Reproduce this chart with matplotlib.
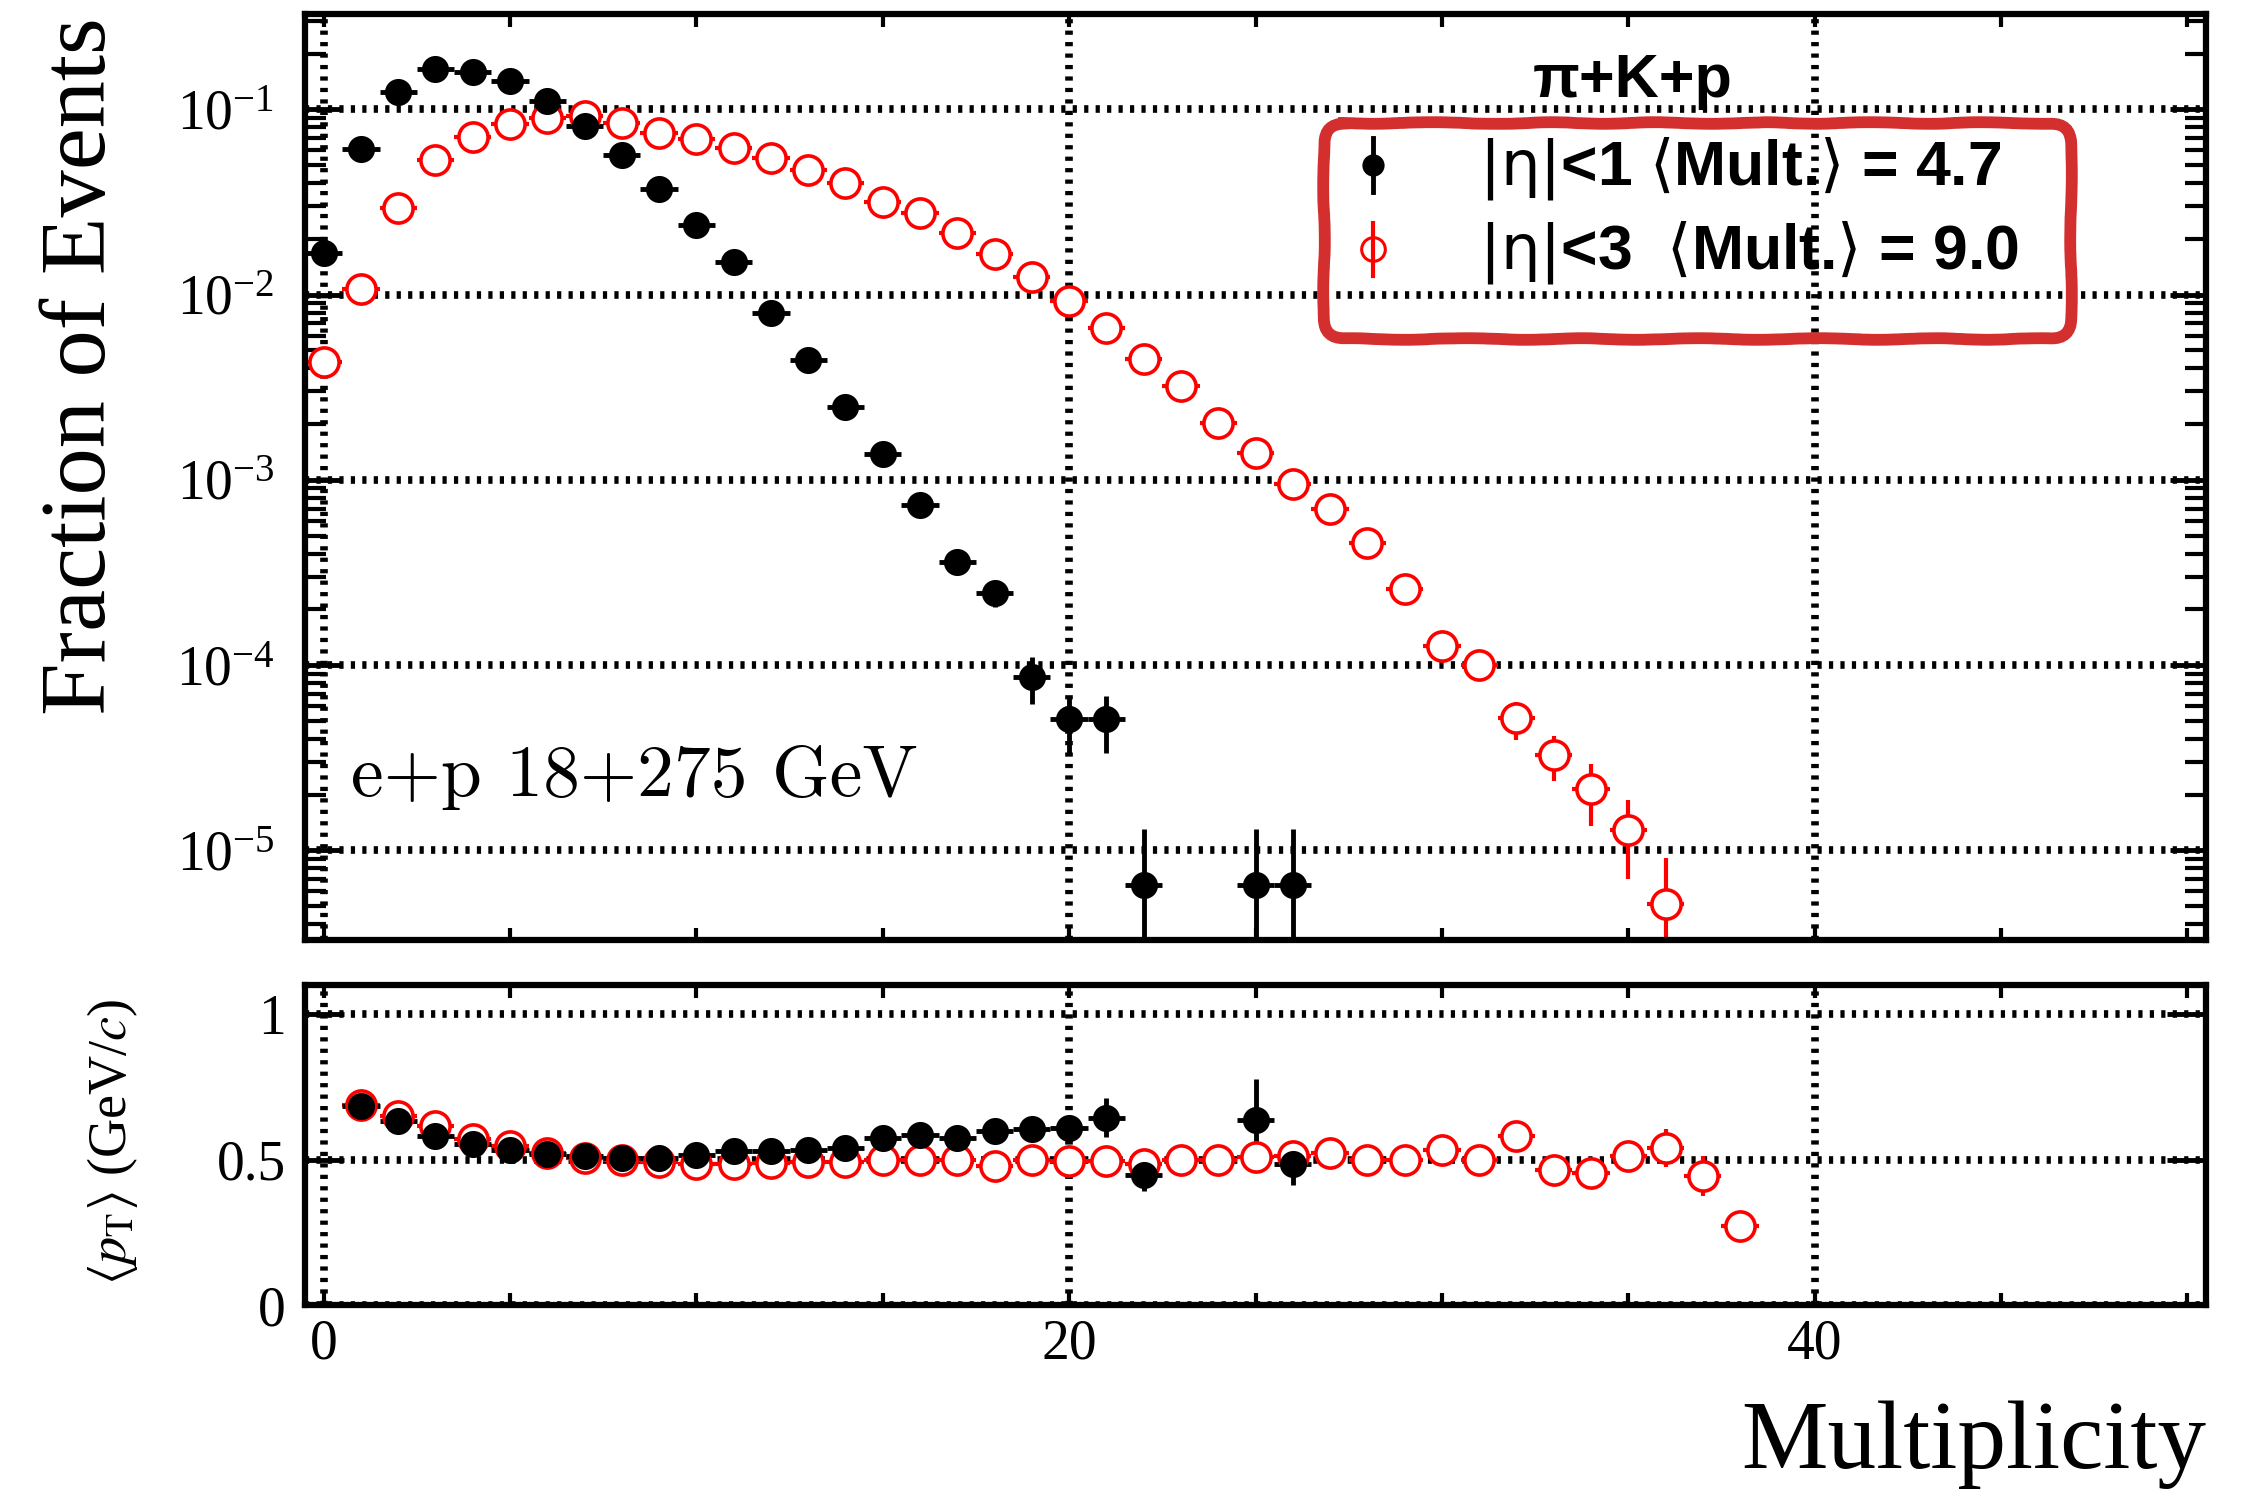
import matplotlib
matplotlib.use('Agg')
import matplotlib.pyplot as plt
import matplotlib.ticker as ticker
from matplotlib.patches import FancyBboxPatch

# ---- data ----
# fraction of events, |eta|<1
mult_eta1 = [0, 1, 2, 3, 4, 5, 6, 7, 8, 9, 10, 11, 12, 13, 14, 15, 16, 17, 18, 19, 20, 21, 22, 25, 26]
frac_eta1 = [0.0167, 0.0612, 0.1246, 0.166, 0.160, 0.142, 0.111, 0.0813, 0.0564, 0.0372,
             0.0236, 0.0149, 0.0080, 0.00446, 0.00247, 0.00138, 7.3e-4, 3.6e-4, 2.45e-4, 8.6e-5,
             5.1e-5, 5.1e-5, 6.5e-6, 6.5e-6, 6.5e-6]
frac_eta1_err = [3e-4, 6e-4, 9e-4, 1e-3, 1e-3, 9e-4, 8e-4, 7e-4, 6e-4, 5e-4,
                 4e-4, 3e-4, 2e-4, 1.7e-4, 1.3e-4, 9e-5, 7e-5, 5e-5, 4e-5, 2.4e-5,
                 1.75e-5, 1.75e-5, 6.5e-6, 6.5e-6, 6.5e-6]

# fraction of events, |eta|<3
mult_eta3 = [0, 1, 2, 3, 4, 5, 6, 7, 8, 9, 10, 11, 12, 13, 14, 15, 16, 17, 18, 19,
             20, 21, 22, 23, 24, 25, 26, 27, 28, 29, 30, 31, 32, 33, 34, 35, 36]
frac_eta3 = [0.0043, 0.0107, 0.0294, 0.0532, 0.0708, 0.0837, 0.0901, 0.092, 0.0847, 0.0748,
             0.0695, 0.062, 0.0545, 0.0472, 0.0402, 0.0315, 0.0274, 0.0215, 0.0166, 0.0124,
             0.0092, 0.0066, 0.0045, 0.0032, 0.00202, 0.00139, 9.55e-4, 7.0e-4, 4.56e-4, 2.58e-4,
             1.26e-4, 1.0e-4, 5.15e-5, 3.26e-5, 2.15e-5, 1.29e-5, 5.1e-6]
frac_eta3_err = [1.5e-4, 2.5e-4, 4e-4, 6e-4, 7e-4, 7e-4, 8e-4, 8e-4, 7e-4, 7e-4,
                 7e-4, 6e-4, 6e-4, 5e-4, 5e-4, 4e-4, 4e-4, 3e-4, 3e-4, 2.5e-4,
                 2e-4, 1.6e-4, 1.3e-4, 1e-4, 8e-5, 6e-5, 5e-5, 4e-5, 3.5e-5, 2.5e-5,
                 1.4e-5, 1.3e-5, 1.2e-5, 9e-6, 7.9e-6, 5.9e-6, 4.0e-6]

# mean pT, |eta|<1
pt_mult_eta1 = [1, 2, 3, 4, 5, 6, 7, 8, 9, 10, 11, 12, 13, 14, 15, 16, 17, 18, 19, 20, 21, 22, 25, 26]
pt_eta1 = [0.683, 0.632, 0.580, 0.552, 0.534, 0.520, 0.511, 0.506, 0.506, 0.517,
           0.529, 0.529, 0.534, 0.540, 0.574, 0.586, 0.574, 0.597, 0.605, 0.609,
           0.643, 0.448, 0.637, 0.483]
pt_eta1_err = [0.005, 0.005, 0.005, 0.005, 0.005, 0.005, 0.005, 0.005, 0.006, 0.007,
               0.008, 0.009, 0.010, 0.012, 0.014, 0.016, 0.018, 0.020, 0.025, 0.030,
               0.067, 0.055, 0.14, 0.07]

# mean pT, |eta|<3
pt_mult_eta3 = [1, 2, 3, 4, 5, 6, 7, 8, 9, 10, 11, 12, 13, 14, 15, 16, 17, 18, 19, 20,
                21, 22, 23, 24, 25, 26, 27, 28, 29, 30, 31, 32, 33, 34, 35, 36, 37, 38]
pt_eta3 = [0.686, 0.651, 0.615, 0.569, 0.546, 0.523, 0.506, 0.500, 0.491, 0.483,
           0.483, 0.487, 0.491, 0.491, 0.498, 0.498, 0.498, 0.477, 0.498, 0.494,
           0.494, 0.486, 0.498, 0.498, 0.509, 0.511, 0.523, 0.498, 0.498, 0.534,
           0.500, 0.580, 0.463, 0.454, 0.511, 0.540, 0.443, 0.271]
pt_eta3_err = [0.005, 0.005, 0.005, 0.005, 0.005, 0.005, 0.005, 0.005, 0.005, 0.005,
               0.005, 0.005, 0.005, 0.005, 0.005, 0.005, 0.006, 0.006, 0.006, 0.007,
               0.008, 0.009, 0.010, 0.012, 0.013, 0.015, 0.018, 0.020, 0.024, 0.028,
               0.030, 0.035, 0.040, 0.045, 0.050, 0.065, 0.07, 0.03]

legend_labels = [r'$|\mathrm{\eta}|$<1 $\langle$Mult.$\rangle$ = 4.7',
                 r'$|\mathrm{\eta}|$<3  $\langle$Mult.$\rangle$ = 9.0']

W, H = 2256, 1490
plt.rcParams['font.family'] = 'Liberation Serif'
plt.rcParams['mathtext.fontset'] = 'stix'

fig = plt.figure(figsize=(W / 100, H / 100), dpi=100)
ax1 = fig.add_axes([305 / W, 1 - 940 / H, (2206 - 305) / W, (940 - 14) / H])
ax2 = fig.add_axes([305 / W, 1 - 1305 / H, (2206 - 305) / W, (1305 - 985) / H])

grid_kw = dict(color='black', linewidth=5.5, linestyle=(0, (0.55, 0.95)))
for ax in (ax1, ax2):
    ax.set_xlim(-0.5, 50.5)
    ax.xaxis.set_major_locator(ticker.FixedLocator([0, 20, 40]))
    ax.xaxis.set_minor_locator(ticker.MultipleLocator(5))
    ax.tick_params(axis='both', which='both', direction='in', top=True, right=True,
                   labelsize=40, color='black')
    ax.tick_params(axis='x', which='both', length=9, width=3)
    ax.tick_params(axis='x', which='major', pad=10)
    for sp in ax.spines.values():
        sp.set_linewidth(4.5)
    ax.set_axisbelow(True)
    ax.grid(True, which='major', **grid_kw)

# ---- top panel: fraction of events ----
ax1.set_yscale('log')
ax1.set_ylim(3.28e-6, 0.327)
ax1.yaxis.set_major_locator(ticker.LogLocator(base=10))
ax1.yaxis.set_minor_locator(ticker.LogLocator(base=10, subs=range(2, 10)))
ax1.yaxis.set_minor_formatter(ticker.NullFormatter())
ax1.tick_params(axis='y', which='major', length=26, width=3.5, pad=22)
ax1.tick_params(axis='y', which='minor', length=15, width=3)
ax1.tick_params(labelbottom=False)

ax1.errorbar(mult_eta3, frac_eta3, xerr=0.5, yerr=frac_eta3_err, fmt='o', color='red',
             ms=21, mfc='white', mec='red', mew=2.6, elinewidth=3, capsize=0)
ax1.errorbar(mult_eta1, frac_eta1, xerr=0.5, yerr=frac_eta1_err, fmt='o', color='black',
             ms=19.5, mew=0, elinewidth=3.5, capsize=0)
ax1.text(0.024, 0.155, 'e+p 18+275 GeV', transform=ax1.transAxes, fontsize=53,
         family='cmr10', ha='left', va='baseline')

# ---- bottom panel: mean pT ----
ax2.set_ylim(0, 1.1)
ax2.yaxis.set_major_locator(ticker.FixedLocator([0, 0.5, 1]))
ax2.yaxis.set_major_formatter(ticker.FixedFormatter(['0', '0.5', '1']))
ax2.tick_params(axis='y', which='major', length=28, width=3.5, pad=14)
ax2.tick_params(axis='y', which='minor', length=0)

ax2.errorbar(pt_mult_eta3, pt_eta3, xerr=0.5, yerr=pt_eta3_err, fmt='o', color='red',
             ms=21, mfc='white', mec='red', mew=2.6, elinewidth=3, capsize=0)
ax2.errorbar(pt_mult_eta1, pt_eta1, xerr=0.5, yerr=pt_eta1_err, fmt='o', color='black',
             ms=19.5, mew=0, elinewidth=3.5, capsize=0)

# ---- axis titles ----
fig.text(83 / W, 1 - 17 / H, 'Fraction of Events', rotation=90, fontsize=68,
         ha='center', va='top')
fig.text(113 / W, 1 - 1142 / H, r'$\langle p_{\mathrm{T}}\rangle$ (GeV/$c$)', rotation=90,
         fontsize=39, ha='center', va='center')
fig.text(2206 / W, 1 - 1468 / H, 'Multiplicity', fontsize=70, ha='right', va='baseline')

# ---- legend + highlight box, in pixel coordinates ----
ov = fig.add_axes([0, 0, 1, 1])
ov.set_xlim(0, W)
ov.set_ylim(H, 0)
ov.axis('off')

sans = ['Liberation Sans', 'DejaVu Sans']
ov.text(1633, 97, 'π+K+p', fontsize=44, fontweight='bold', family=sans,
        ha='center', va='baseline')

ov.plot([1373, 1373], [138, 192], color='black', lw=3.5)
ov.plot([1373], [165], 'o', color='black', ms=16, mew=0)
ov.plot([1373, 1373], [223, 276], color='red', lw=3)
ov.plot([1373], [249], 'o', color='red', mfc='none', ms=17, mew=2.2)
ov.text(1479, 185, legend_labels[0], fontsize=45, fontweight='bold', family=sans,
        math_fontfamily='dejavusans', ha='left', va='baseline')
ov.text(1479, 268, legend_labels[1], fontsize=45, fontweight='bold', family=sans,
        math_fontfamily='dejavusans', ha='left', va='baseline')

box = FancyBboxPatch((1324, 123), 747, 216, boxstyle='round,pad=0,rounding_size=20',
                     fill=False, edgecolor='#d32f2f', linewidth=8.5)
box.set_sketch_params(scale=0.8, length=160, randomness=4)
ov.add_patch(box)

fig.savefig('out.png', dpi=100)
